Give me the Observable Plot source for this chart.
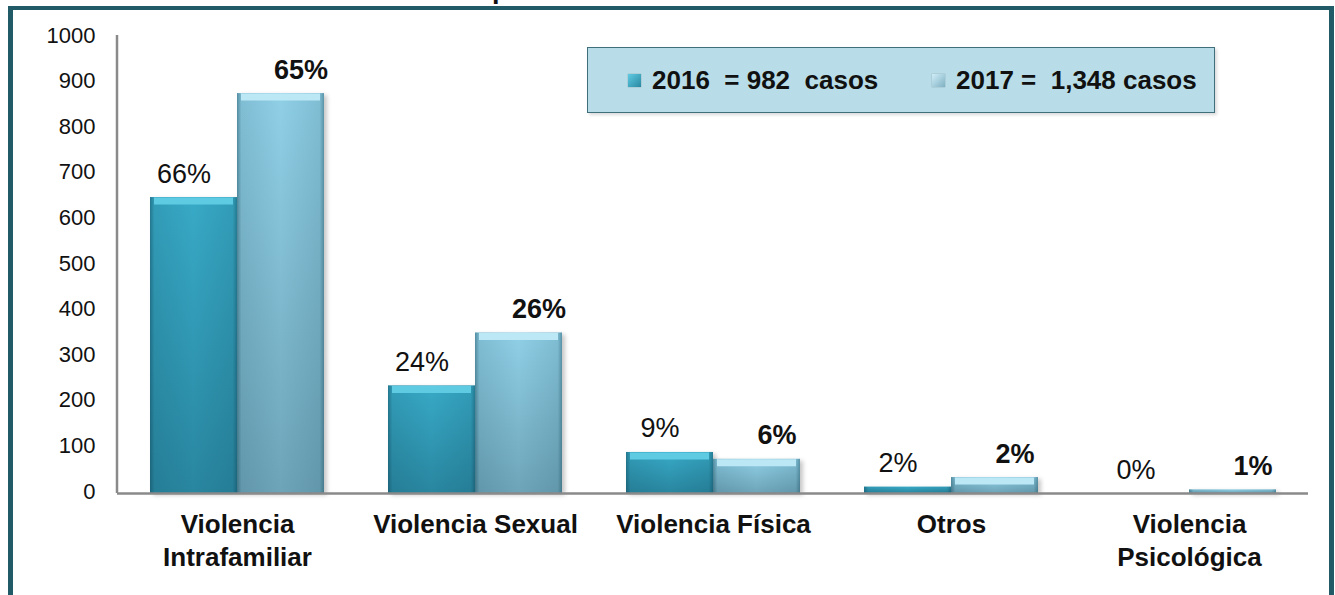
<!DOCTYPE html>
<html>
<head>
<meta charset="utf-8">
<script src="https://cdn.jsdelivr.net/npm/d3@7"></script>
<script src="https://cdn.jsdelivr.net/npm/@observablehq/plot@0.6"></script>
<style>
  html, body { margin: 0; padding: 0; background: #fff; }
  #page { position: relative; width: 1335px; height: 595px; overflow: hidden; background: #fff;
          font-family: Arial, "Liberation Sans", sans-serif; }
  #frame { position: absolute; left: 8px; top: 6px; width: 1326px; height: 620px; box-sizing: border-box;
           border: 5px solid #215b68; border-top-width: 4px; border-bottom: none; }
  #title { position: absolute; left: 432px; top: -26px; font-size: 27px; font-weight: bold; color: #111;
           white-space: pre; line-height: 30px; }
  #chart { position: absolute; left: 0; top: 0; }
  #legend { position: absolute; left: 587px; top: 47px; width: 628px; height: 66px; box-sizing: border-box;
            background: #b8dde8; border: 1.5px solid #3f6f7b; box-shadow: 2px 2px 3px rgba(0,0,0,0.15);
            font-size: 26px; font-weight: bold; color: #111; }
  .item { display: flex; align-items: center; white-space: pre; position: absolute; top: 0; height: 100%; }
  .sw { width: 13px; height: 13px; margin-right: 11px; box-shadow: 0 0 1px rgba(0,0,0,0.4); }
</style>
</head>
<body>
<svg width="0" height="0" style="position:absolute">
  <defs>
    <linearGradient id="g16" x1="0" y1="0" x2="0" y2="1">
      <stop offset="0%" stop-color="#38aac7"/>
      <stop offset="100%" stop-color="#2986a0"/>
    </linearGradient>
    <linearGradient id="g17" x1="0" y1="0" x2="0" y2="1">
      <stop offset="0%" stop-color="#90d0e7"/>
      <stop offset="100%" stop-color="#6ea4b8"/>
    </linearGradient>
    <linearGradient id="side" x1="0" y1="0" x2="1" y2="0">
      <stop offset="0%" stop-color="#0a3a4a" stop-opacity="0.45"/>
      <stop offset="5%" stop-color="#0a3a4a" stop-opacity="0.12"/>
      <stop offset="50%" stop-color="#0a3a4a" stop-opacity="0"/>
      <stop offset="95%" stop-color="#0a3a4a" stop-opacity="0.12"/>
      <stop offset="100%" stop-color="#0a3a4a" stop-opacity="0.4"/>
    </linearGradient>
  </defs>
</svg>
<div id="page">
  <div id="title"></div>
  <div id="frame"></div>
  <div id="chart"></div>
  <div id="legend"></div>
</div>
<script>
const titleText = "Comparativo de casos 2016 - 2017";
const categories = ["Violencia Intrafamiliar", "Violencia Sexual", "Violencia Física", "Otros", "Violencia Psicológica"];
const tickLabels = ["Violencia\nIntrafamiliar", "Violencia Sexual", "Violencia Física", "Otros", "Violencia\nPsicológica"];
const values2016 = [649, 236, 90, 14, 0];
const values2017 = [877, 352, 75, 35, 8];
const pct2016 = ["66%", "24%", "9%", "2%", "0%"];
const pct2017 = ["65%", "26%", "6%", "2%", "1%"];
const years = ["2016", "2017"];
const totals = ["982", "1,348"];
const yTicks = [0, 100, 200, 300, 400, 500, 600, 700, 800, 900, 1000];

document.getElementById("title").textContent = titleText;

const data16 = categories.map((c, i) => ({category: c, value: values2016[i], pct: pct2016[i]}));
const data17 = categories.map((c, i) => ({category: c, value: values2017[i], pct: pct2017[i]}));
const half = 87;

const chart = Plot.plot({
  width: 1335,
  height: 595,
  marginLeft: 117,
  marginRight: 27,
  marginTop: 37,
  marginBottom: 102,
  style: {fontFamily: "Arial, 'Liberation Sans', sans-serif", fontSize: "22px", color: "#111", background: "transparent", overflow: "visible"},
  x: {domain: categories, paddingInner: 0.27, paddingOuter: 0.135, align: 0.5, label: null},
  y: {domain: [0, 1000], label: null},
  marks: [
    Plot.barY(data16, {x: "category", y: "value", fill: "url(#g16)", insetRight: half}),
    Plot.barY(data16, {x: "category", y: "value", fill: "url(#side)", insetRight: half}),
    Plot.tickY(data16.filter(d => d.value > 20), {x: "category", y: "value", stroke: "#5fcbe3", strokeWidth: 7, dy: 3.5, insetRight: half + 4, insetLeft: 4}),
    Plot.barY(data17, {x: "category", y: "value", fill: "url(#g17)", insetLeft: half}),
    Plot.barY(data17, {x: "category", y: "value", fill: "url(#side)", insetLeft: half}),
    Plot.tickY(data17.filter(d => d.value > 20), {x: "category", y: "value", stroke: "#bce7f5", strokeWidth: 7, dy: 3.5, insetLeft: half + 4, insetRight: 4}),
    Plot.ruleY([0], {stroke: "#8a8a8a", strokeWidth: 2.5}),
    Plot.axisY({ticks: yTicks, tickSize: 0, tickPadding: 22, fontSize: 22, dy: -2, label: null, fill: "#111", tickFormat: d => String(d)}),
    Plot.axisX({tickSize: 0, tickPadding: 16, fontSize: 26, fontWeight: "bold", lineHeight: 1.27, label: null, fill: "#111",
                tickFormat: d => tickLabels[categories.indexOf(d)]}),
    Plot.text(data16, {x: "category", y: "value", text: "pct", dx: -half / 2 - 10, dy: -15, lineAnchor: "bottom", fontSize: 27, fill: "#111"}),
    Plot.text(data17, {x: "category", y: "value", text: "pct", dx: half / 2 + 20, dy: -15, lineAnchor: "bottom", fontSize: 27, fontWeight: "bold", fill: "#111"})
  ]
});
document.getElementById("chart").appendChild(chart);

// vertical y-axis line drawn from the y scale
const ys = chart.scale("y");
const ns = "http://www.w3.org/2000/svg";
const axisLine = document.createElementNS(ns, "line");
axisLine.setAttribute("x1", 117); axisLine.setAttribute("x2", 117);
axisLine.setAttribute("y1", ys.apply(1000) - 2); axisLine.setAttribute("y2", ys.apply(0));
axisLine.setAttribute("stroke", "#8a8a8a"); axisLine.setAttribute("stroke-width", 2.5);
chart.appendChild(axisLine);

chart.querySelectorAll('g[aria-label="bar"]').forEach((g, i) => {
  if (i % 2 === 0) g.style.filter = "drop-shadow(3px 2px 2px rgba(0,0,0,0.22))";
});

const legend = document.getElementById("legend");
const swatches = ["linear-gradient(135deg,#5fcbe3,#2a88a2)", "linear-gradient(135deg,#d0eef8,#7fb0c2)"];
const legendX = [40, 344];
years.forEach((y, i) => {
  const item = document.createElement("div");
  item.className = "item";
  item.style.left = legendX[i] + "px";
  const sw = document.createElement("div");
  sw.className = "sw";
  sw.style.background = swatches[i];
  const t = document.createElement("span");
  t.textContent = i === 0 ? `${y}  = ${totals[i]}  casos` : `${y} =  ${totals[i]} casos`;
  item.appendChild(sw); item.appendChild(t);
  legend.appendChild(item);
});
</script>
</body>
</html>
